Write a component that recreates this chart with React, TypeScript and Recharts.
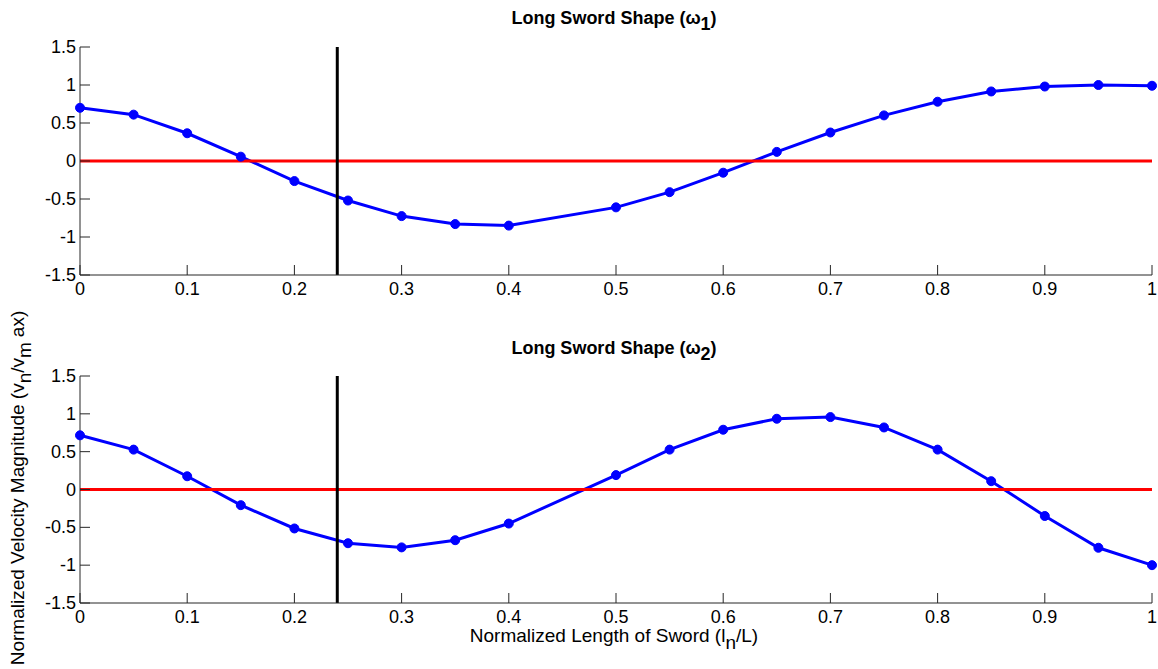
import React from 'react';
import { LineChart, Line, XAxis, YAxis, ReferenceLine } from 'recharts';

// sample positions along the sword (0.45 was not sampled)
const xs = [0, 0.05, 0.1, 0.15, 0.2, 0.25, 0.3, 0.35, 0.4, 0.5, 0.55, 0.6, 0.65, 0.7, 0.75, 0.8, 0.85, 0.9, 0.95, 1];
const omega1 = [0.7, 0.61, 0.365, 0.057, -0.264, -0.52, -0.725, -0.83, -0.85, -0.61, -0.41, -0.154, 0.12, 0.375, 0.6, 0.78, 0.915, 0.98, 1.0, 0.99];
const omega2 = [0.716, 0.527, 0.175, -0.207, -0.515, -0.71, -0.765, -0.67, -0.45, 0.19, 0.527, 0.79, 0.935, 0.957, 0.82, 0.527, 0.11, -0.35, -0.77, -1.0];
const xTicks = [0, 0.1, 0.2, 0.3, 0.4, 0.5, 0.6, 0.7, 0.8, 0.9, 1];
const yTicks = [-1.5, -1, -0.5, 0, 0.5, 1, 1.5];
const sweetSpot = 0.24;

const FONT = '"Liberation Sans", Arial, Helvetica, sans-serif';
const AXIS = '#262626';

const XTick = (props: any) => {
  const { x, y, payload } = props;
  return (
    <g>
      <line x1={x} x2={x} y1={y} y2={y - 10} stroke={AXIS} strokeWidth={1} />
      <text x={x} y={y + 20} textAnchor="middle" fontSize={18} fontFamily={FONT} fill="#000">
        {payload.value}
      </text>
    </g>
  );
};

const YTick = (props: any) => {
  const { x, y, payload } = props;
  return (
    <g>
      <line x1={x} x2={x + 10} y1={y} y2={y} stroke={AXIS} strokeWidth={1} />
      <text x={x - 4} y={y + 6} textAnchor="end" fontSize={18} fontFamily={FONT} fill="#000">
        {payload.value}
      </text>
    </g>
  );
};

const Panel = ({ values, top, height, margin }: { values: number[]; top: number; height: number; margin: any }) => {
  const data = xs.map((x, i) => ({ x, v: values[i] }));
  return (
    <div style={{ position: 'absolute', left: 0, top }}>
      <LineChart width={1158} height={height} data={data} margin={margin}>
        <XAxis
          dataKey="x"
          type="number"
          domain={[0, 1]}
          ticks={xTicks}
          tick={<XTick />}
          tickLine={false}
          tickSize={0}
          tickMargin={0}
          height={30}
          axisLine={{ stroke: AXIS, strokeWidth: 1 }}
          interval={0}
        />
        <YAxis
          type="number"
          domain={[-1.5, 1.5]}
          ticks={yTicks}
          tick={<YTick />}
          tickLine={false}
          tickSize={0}
          tickMargin={0}
          width={80}
          axisLine={{ stroke: AXIS, strokeWidth: 1 }}
          interval={0}
        />
        <Line
          dataKey="v"
          stroke="#0000ff"
          strokeWidth={3}
          dot={{ r: 4.5, fill: '#0000ff', stroke: '#0000ff', strokeWidth: 1 }}
          isAnimationActive={false}
        />
        <ReferenceLine y={0} stroke="#ff0000" strokeWidth={3} />
        <ReferenceLine x={sweetSpot} stroke="#000" strokeWidth={3} />
      </LineChart>
    </div>
  );
};

const Title = ({ y, sub }: { y: number; sub: string }) => (
  <text x={614} y={y} textAnchor="middle" fontSize={18} fontWeight="bold" fontFamily={FONT} fill="#000">
    Long Sword Shape (ω<tspan dy={6}>{sub}</tspan>
    <tspan dy={-6}>)</tspan>
  </text>
);

export default function App() {
  return (
    <div style={{ position: 'absolute', left: 0, top: 0, width: 1158, height: 669, background: '#fff' }}>
      <Panel values={omega1} top={0} height={330} margin={{ top: 47, right: 6, bottom: 25, left: 0 }} />
      <Panel values={omega2} top={330} height={339} margin={{ top: 46, right: 6, bottom: 36, left: 0 }} />
      <svg width={1158} height={669} style={{ position: 'absolute', left: 0, top: 0, pointerEvents: 'none' }}>
        <Title y={24} sub="1" />
        <Title y={354} sub="2" />
        <text x={614} y={642} textAnchor="middle" fontSize={19} fontFamily={FONT} fill="#000">
          Normalized Length of Sword (l<tspan dy={7}>n</tspan>
          <tspan dy={-7}>/L)</tspan>
        </text>
        <text
          transform="translate(24, 488) rotate(-90)"
          textAnchor="middle"
          fontSize={19}
          fontFamily={FONT}
          fill="#000"
        >
          Normalized Velocity Magnitude (v<tspan dy={7}>n</tspan>
          <tspan dy={-7}>/v</tspan>
          <tspan dy={7}>m</tspan>
          <tspan dy={-7} dx={5}>ax)</tspan>
        </text>
      </svg>
    </div>
  );
}
